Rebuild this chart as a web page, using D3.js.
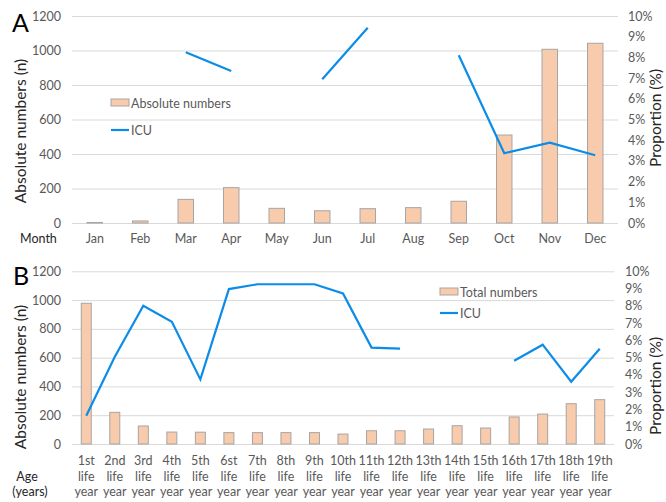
<!DOCTYPE html>
<html>
<head>
<meta charset="utf-8">
<script src="https://cdn.jsdelivr.net/npm/d3@7"></script>
<style>
body { margin: 0; background: #fff; }
text { font-family: Lato, "Open Sans", sans-serif; }
.tick text { fill: #595959; font-size: 12.5px; }
.domain { display: none; }
.tick line { stroke: #d9d9d9; }
</style>
</head>
<body>
<div id="chart"></div>
<script>
// panel A data
var months = ["Jan","Feb","Mar","Apr","May","Jun","Jul","Aug","Sep","Oct","Nov","Dec"];
var monthTotals = [3, 12, 137, 205, 85, 71, 83, 89, 126, 510, 1007, 1042];
var monthICU = [null, null, 8.25, 7.34, null, 6.94, 9.43, null, 8.1, 3.37, 3.88, 3.27];

// panel B data
var ages = ["1st","2nd","3rd","4th","5th","6st","7th","8th","9th","10th","11th","12th","13th","14th","15th","16th","17th","18th","19th"];
var ageTotals = [978, 220, 125, 83, 82, 79, 79, 79, 79, 69, 92, 92, 104, 127, 111, 188, 208, 280, 308];
var ageICU = [1.64, 5.05, 8.01, 7.08, 3.74, 8.97, 9.25, 9.25, 9.25, 8.72, 5.58, 5.52, null, null, null, 4.82, 5.75, 3.61, 5.52];

var leftTicks = [0, 200, 400, 600, 800, 1000, 1200];
var rightTicks = [0, 1, 2, 3, 4, 5, 6, 7, 8, 9, 10];

var width = 666;
var height = 502;
var barFill = "#f8cbad";
var barStroke = "#a5a5a5";
var lineColor = "#0c8ce9";

var svg = d3
    .select("#chart")
    .append("svg")
    .attr("width", width)
    .attr("height", height);

function panel(opt) {
    var g = svg.append("g");

    var x = d3.scaleBand()
        .domain(opt.cats)
        .range([72, opt.right])
        .paddingInner(opt.pad)
        .paddingOuter(opt.pad / 2);

    var y = d3.scaleLinear()
        .domain([0, 1200])
        .range([opt.bottom, opt.top]);

    var y2 = d3.scaleLinear()
        .domain([0, 10])
        .range([opt.bottom, opt.top]);

    // grid + left axis
    g.append("g")
        .attr("transform", "translate(72,0)")
        .call(d3.axisLeft(y).tickValues(leftTicks).tickSize(-(opt.right - 72)).tickPadding(11)
            .tickFormat(d3.format("d")));

    // right axis
    g.append("g")
        .attr("transform", "translate(" + opt.right + ",0)")
        .call(d3.axisRight(y2).tickValues(rightTicks).tickSize(0).tickPadding(opt.rpad)
            .tickFormat(function(d) { return d + "%"; }));

    // bars
    g.selectAll("rect.bar")
        .data(opt.totals)
        .enter()
        .append("rect")
        .attr("class", "bar")
        .attr("x", function(d, i) { return x(opt.cats[i]); })
        .attr("y", function(d) { return y(d); })
        .attr("width", x.bandwidth())
        .attr("height", function(d) { return opt.bottom - y(d); })
        .attr("fill", barFill)
        .attr("stroke", barStroke)
        .attr("stroke-width", 1);

    // ICU line
    var line = d3.line()
        .defined(function(d) { return d != null; })
        .x(function(d, i) { return x(opt.cats[i]) + x.bandwidth() / 2; })
        .y(function(d) { return y2(d); });

    g.append("path")
        .datum(opt.icu)
        .attr("d", line)
        .attr("fill", "none")
        .attr("stroke", lineColor)
        .attr("stroke-width", 2.2);

    // x labels
    opt.cats.forEach(function(c, i) {
        var cx = x(c) + x.bandwidth() / 2;
        var t = g.append("text")
            .attr("x", cx)
            .attr("y", opt.labelY)
            .attr("text-anchor", "middle")
            .attr("fill", "#595959")
            .style("font-size", "12.5px");
        if (opt.multi) {
            [c, "life", "year"].forEach(function(s, k) {
                t.append("tspan").attr("x", cx).attr("dy", k === 0 ? 0 : 15.5).text(s);
            });
        } else {
            t.text(c);
        }
    });

    // panel letter
    g.append("text")
        .attr("x", opt.letterX)
        .attr("y", opt.letterY)
        .style("font-size", "25px")
        .attr("fill", "#000")
        .text(opt.letter);

    // axis titles
    g.append("text")
        .attr("transform", "translate(" + 26 + "," + opt.ltitleY + ")rotate(-90)")
        .attr("text-anchor", "middle")
        .style("font-size", "15.5px")
        .attr("fill", "#262626")
        .text("Absolute numbers (n)");

    g.append("text")
        .attr("transform", "translate(" + 661 + "," + opt.rtitleY + ")rotate(-90)")
        .attr("text-anchor", "middle")
        .style("font-size", "15.5px")
        .attr("fill", "#262626")
        .text("Proportion (%)");

    // legend
    var lg = g.append("g").attr("transform", "translate(" + opt.legX + "," + opt.legY + ")");
    lg.append("rect")
        .attr("x", 0).attr("y", -4)
        .attr("width", 18).attr("height", 7)
        .attr("fill", barFill)
        .attr("stroke", barStroke);
    lg.append("text")
        .attr("x", 20).attr("y", 4.5)
        .style("font-size", "12.5px")
        .attr("fill", "#595959")
        .text(opt.legText);
    lg.append("line")
        .attr("x1", 0).attr("x2", 18)
        .attr("y1", opt.legGap).attr("y2", opt.legGap)
        .attr("stroke", lineColor)
        .attr("stroke-width", 2.2);
    lg.append("text")
        .attr("x", 20).attr("y", opt.legGap + 4.5)
        .style("font-size", "12.5px")
        .attr("fill", "#595959")
        .text("ICU");

    return g;
}

panel({
    cats: months, totals: monthTotals, icu: monthICU,
    top: 16, bottom: 223, right: 618, pad: 0.66, rpad: 10,
    labelY: 243, multi: false,
    letter: "A", letterX: 12, letterY: 32,
    ltitleY: 131, rtitleY: 118,
    legX: 111, legY: 103, legText: "Absolute numbers", legGap: 27
});

panel({
    cats: ages, totals: ageTotals, icu: ageICU,
    top: 271.3, bottom: 444, right: 614, pad: 0.65, rpad: 11,
    labelY: 465, multi: true,
    letter: "B", letterX: 13, letterY: 285,
    ltitleY: 377, rtitleY: 386,
    legX: 440, legY: 292, legText: "Total numbers", legGap: 21
});

// category row titles
svg.append("text")
    .attr("x", 20).attr("y", 243)
    .style("font-size", "12.5px")
    .attr("fill", "#262626")
    .text("Month");

var ageT = svg.append("text")
    .attr("text-anchor", "middle")
    .style("font-size", "12.5px")
    .attr("fill", "#262626");
ageT.append("tspan").attr("x", 27).attr("y", 480.5).text("Age");
ageT.append("tspan").attr("x", 30).attr("y", 496).text("(years)");
</script>
</body>
</html>
